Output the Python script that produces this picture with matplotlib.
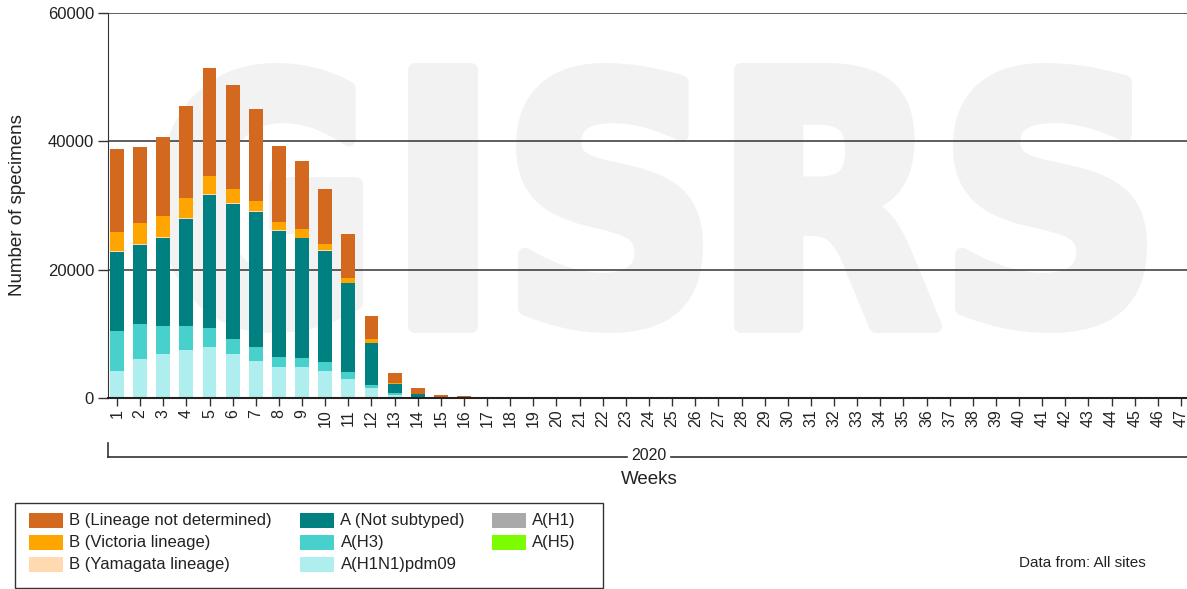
import matplotlib
matplotlib.use("Agg")
import matplotlib.pyplot as plt
from matplotlib.patches import Rectangle, PathPatch
from matplotlib.lines import Line2D
from matplotlib.textpath import TextPath
from matplotlib.font_manager import FontProperties
from matplotlib.transforms import Affine2D

plt.rcParams['font.family'] = ['Liberation Sans', 'DejaVu Sans']

# =========================
# DATA
# =========================
weeks = list(range(1, 48))
week_labels = [str(w) for w in weeks]

pdm09 = [4260, 6030, 6810, 7430, 8000, 6810, 5820, 4830, 4830, 4210,
         3010, 1560, 470, 140, 20, 10, 0, 0, 0, 0,
         0, 0, 0, 0, 0, 0, 0, 0, 0, 0,
         0, 0, 0, 0, 0, 0, 0, 0, 0, 0,
         0, 0, 0, 0, 0, 0, 0]
h3 = [6130, 5550, 4360, 3740, 2960, 2390, 2180, 1560, 1350, 1400,
      990, 520, 260, 80, 10, 5, 0, 0, 0, 0,
      0, 0, 0, 0, 0, 0, 0, 0, 0, 0,
      0, 0, 0, 0, 0, 0, 0, 0, 0, 0,
      0, 0, 0, 0, 0, 0, 0]
a_not_subtyped = [12310, 12320, 13710, 16680, 20630, 21090, 21040, 19690, 18700, 17350,
                  13870, 6490, 1400, 350, 30, 20, 10, 10, 0, 0,
                  0, 0, 0, 0, 0, 0, 0, 0, 0, 0,
                  0, 0, 0, 0, 0, 0, 0, 0, 0, 0,
                  0, 0, 0, 0, 0, 0, 0]
h1 = [0, 0, 0, 0, 0, 0, 0, 0, 0, 0,
      0, 0, 0, 0, 0, 0, 0, 0, 0, 0,
      0, 0, 0, 0, 0, 0, 0, 0, 0, 0,
      0, 0, 0, 0, 0, 0, 0, 0, 0, 0,
      0, 0, 0, 0, 0, 0, 0]
h5 = [0, 0, 0, 0, 0, 0, 0, 0, 0, 0,
      0, 0, 0, 0, 0, 0, 0, 0, 0, 0,
      0, 0, 0, 0, 0, 0, 0, 0, 0, 0,
      0, 0, 0, 0, 0, 0, 0, 0, 0, 0,
      0, 0, 0, 0, 0, 0, 0]
yamagata = [150, 150, 150, 200, 150, 150, 100, 100, 100, 80,
            80, 60, 20, 10, 0, 0, 0, 0, 0, 0,
            0, 0, 0, 0, 0, 0, 0, 0, 0, 0,
            0, 0, 0, 0, 0, 0, 0, 0, 0, 0,
            0, 0, 0, 0, 0, 0, 0]
victoria = [2970, 3220, 3390, 3120, 2810, 2130, 1610, 1250, 1410, 1010,
            750, 560, 130, 90, 30, 20, 10, 10, 0, 0,
            0, 0, 0, 0, 0, 0, 0, 0, 0, 0,
            0, 0, 0, 0, 0, 0, 0, 0, 0, 0,
            0, 0, 0, 0, 0, 0, 0]
b_not_determined = [13040, 11850, 12310, 14290, 16830, 16210, 14290, 11900, 10550, 8520,
                    6910, 3540, 1610, 830, 400, 260, 90, 90, 0, 0,
                    0, 0, 0, 0, 0, 0, 0, 0, 0, 0,
                    0, 0, 0, 0, 0, 0, 0, 60, 0, 70,
                    90, 80, 0, 0, 0, 0, 0]

y_ticks = [0, 20000, 40000, 60000]
y_tick_labels = ["0", "20000", "40000", "60000"]

# stacking order, bottom to top
stack = [
    ("A(H1N1)pdm09", pdm09, "#AFEEEE"),
    ("A(H3)", h3, "#48D1CC"),
    ("A (Not subtyped)", a_not_subtyped, "#008080"),
    ("A(H1)", h1, "#A9A9A9"),
    ("A(H5)", h5, "#7CFC00"),
    ("B (Yamagata lineage)", yamagata, "#FFDAB0"),
    ("B (Victoria lineage)", victoria, "#FFA500"),
    ("B (Lineage not determined)", b_not_determined, "#D2691E"),
]
colors = {name: c for name, _, c in stack}

# legend columns, as in the original
legend_cols = [
    ["B (Lineage not determined)", "B (Victoria lineage)", "B (Yamagata lineage)"],
    ["A (Not subtyped)", "A(H3)", "A(H1N1)pdm09"],
    ["A(H1)", "A(H5)"],
]

# =========================
# FIGURE
# =========================
W, H = 1187, 589
fig = plt.figure(figsize=(W / 100, H / 100), dpi=100)


def fx(x):
    return x / W


def fy(y):
    return 1 - y / H


ax = fig.add_axes([fx(108), fy(398), 1 - fx(108), (398 - 13) / H])

# watermark (heavy letters: glyph fill plus a thick outline of the same grey)
fp = FontProperties(family='DejaVu Sans', weight='bold')
pad = 7
letter_boxes = [("G", 159, 363), ("I", 408, 478), ("S", 516, 703), ("R", 734, 942), ("S", 953, 1147)]
for ch, x0, x1 in letter_boxes:
    tp = TextPath((0, 0), ch, size=100, prop=fp)
    ext = tp.get_extents()
    bx0, bx1, by0, by1 = x0 + pad, x1 - pad, 63 + pad, 333 - pad
    tr = (Affine2D().translate(-ext.x0, -ext.y0)
          .scale((bx1 - bx0) / ext.width / W, (by1 - by0) / ext.height / H)
          .translate(fx(bx0), fy(by1)) + fig.transFigure)
    pp = PathPatch(tp, facecolor="#f2f2f2", edgecolor="#f2f2f2", linewidth=pad * 2 * 0.72,
                   joinstyle="round", transform=tr, zorder=0.1)
    ax.add_patch(pp)

bottom = [0] * len(weeks)
for name, vals, col in stack:
    ax.bar(weeks, vals, width=0.6, bottom=bottom, color=col, linewidth=0, zorder=2)
    bottom = [b + v for b, v in zip(bottom, vals)]

ax.set_xlim(0.61, 47.26)
ax.set_ylim(0, 60000)
ax.set_yticks(y_ticks)
ax.set_yticklabels(y_tick_labels)
ax.set_xticks(weeks)
ax.set_xticklabels(week_labels, rotation=90)

ax.set_axisbelow(True)
ax.yaxis.grid(True, color="#333333", linewidth=1.1)

ax.spines["top"].set_visible(False)
ax.spines["right"].set_visible(False)
ax.spines["left"].set_color("#333333")
ax.spines["bottom"].set_color("#222222")
ax.spines["bottom"].set_linewidth(1.5)
ax.spines["bottom"].set_zorder(3)

ax.tick_params(axis="y", length=7, width=1, color="#333333", pad=3, labelsize=12, labelcolor="#222222")
ax.tick_params(axis="x", length=6, width=1, color="#333333", pad=2, labelsize=11.5, labelcolor="#222222")

fig.text(fx(18), fy(205), "Number of specimens", rotation=90, ha="center", va="center",
         fontsize=13.5, color="#222222")

# year bracket under the week labels
line_kw = dict(color="#333333", linewidth=1.2, transform=fig.transFigure)
fig.add_artist(Line2D([fx(108), fx(108)], [fy(443), fy(457)], **line_kw))
fig.add_artist(Line2D([fx(108), fx(627)], [fy(457), fy(457)], **line_kw))
fig.add_artist(Line2D([fx(671), fx(1187)], [fy(457), fy(457)], **line_kw))
fig.text(fx(649), fy(455), "2020", ha="center", va="center", fontsize=11.5, color="#222222")
fig.text(fx(649), fy(480), "Weeks", ha="center", va="center", fontsize=13.5, color="#222222")

# legend box
fig.add_artist(Rectangle((fx(14.5), fy(587.5)), fx(603) - fx(14.5), fy(502.5) - fy(587.5),
                         transform=fig.transFigure, facecolor="white", edgecolor="#333333",
                         linewidth=1.0))
col_x = [29, 300.5, 491.5]
row_y = [520.7, 542.7, 564.3]
for cx, names in zip(col_x, legend_cols):
    for ry, name in zip(row_y, names):
        fig.add_artist(Rectangle((fx(cx), fy(ry + 7.5)), 34 / W, 15 / H,
                                 transform=fig.transFigure, facecolor=colors[name],
                                 edgecolor="none"))
        fig.text(fx(cx + 40), fy(ry), name, ha="left", va="center", fontsize=12, color="#222222")

fig.text(fx(1019), fy(563), "Data from: All sites", ha="left", va="center", fontsize=11, color="#222222")

fig.savefig("out.png", dpi=100)
